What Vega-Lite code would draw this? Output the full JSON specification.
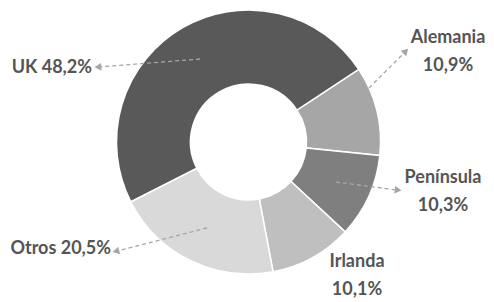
{
  "$schema": "https://vega.github.io/schema/vega-lite/v6.json",
  "width": 491,
  "height": 284,
  "autosize": "none",
  "padding": {"left": 3, "right": 0, "top": 0, "bottom": 18},
  "background": "white",
  "config": {"view": {"stroke": null}},
  "datasets": {
    "shares": [
      {"region": "Alemania", "pct": 10.9, "orden": 1},
      {"region": "Península", "pct": 10.3, "orden": 2},
      {"region": "Irlanda", "pct": 10.1, "orden": 3},
      {"region": "Otros", "pct": 20.5, "orden": 4},
      {"region": "UK", "pct": 48.2, "orden": 5}
    ],
    "labels": [
      {"region": "UK", "text": "UK 48,2%", "lx": 92, "ly": 68, "side": "right"},
      {"region": "Alemania", "text": "Alemania\n10,9%", "lx": 448, "ly": 38, "side": "center"},
      {"region": "Península", "text": "Península\n10,3%", "lx": 443, "ly": 178, "side": "center"},
      {"region": "Irlanda", "text": "Irlanda\n10,1%", "lx": 357, "ly": 262, "side": "center"},
      {"region": "Otros", "text": "Otros 20,5%", "lx": 111, "ly": 249, "side": "right"}
    ],
    "arrows": [
      {"region": "UK", "x1": 200, "y1": 59, "x2": 99, "y2": 67},
      {"region": "Alemania", "x1": 369, "y1": 88, "x2": 405, "y2": 52},
      {"region": "Península", "x1": 336, "y1": 182, "x2": 397, "y2": 190},
      {"region": "Otros", "x1": 207, "y1": 228, "x2": 117, "y2": 251}
    ]
  },
  "layer": [
    {
      "data": {"name": "shares"},
      "mark": {"type": "arc", "innerRadius": 58, "outerRadius": 132, "stroke": "white", "strokeWidth": 1.5},
      "encoding": {
        "theta": {"field": "pct", "type": "quantitative", "stack": true, "scale": {"range": [0.988, 7.2712]}},
        "order": {"field": "orden", "type": "quantitative"},
        "color": {
          "field": "region", "type": "nominal", "legend": null,
          "scale": {
            "domain": ["Alemania", "Península", "Irlanda", "Otros", "UK"],
            "range": ["#a6a6a6", "#7f7f7f", "#bfbfbf", "#d9d9d9", "#595959"]
          }
        }
      }
    },
    {
      "data": {"name": "arrows"},
      "mark": {"type": "rule", "color": "#a6a6a6", "strokeWidth": 1.3, "strokeDash": [4, 3]},
      "encoding": {
        "x": {"field": "x1", "type": "quantitative", "axis": null, "scale": {"domain": [3, 494], "nice": false, "zero": false}},
        "y": {"field": "y1", "type": "quantitative", "axis": null, "scale": {"domain": [0, 284], "reverse": true, "nice": false, "zero": false}},
        "x2": {"field": "x2"},
        "y2": {"field": "y2"}
      }
    },
    {
      "data": {"name": "arrows"},
      "transform": [
        {"calculate": "atan2(datum.x2 - datum.x1, datum.y1 - datum.y2) * 180 / PI", "as": "ang"}
      ],
      "mark": {"type": "point", "shape": "triangle", "filled": true, "color": "#a6a6a6", "opacity": 1, "size": 60},
      "encoding": {
        "x": {"field": "x2", "type": "quantitative"},
        "y": {"field": "y2", "type": "quantitative"},
        "angle": {"field": "ang", "type": "quantitative", "scale": {"domain": [-360, 360], "range": [-360, 360]}}
      }
    },
    {
      "data": {"name": "labels"},
      "transform": [{"filter": "datum.side === 'right'"}],
      "mark": {"type": "text", "align": "right", "baseline": "middle", "font": "Lato", "fontWeight": "bold", "fontSize": 18, "color": "#555555", "lineBreak": "\n", "lineHeight": 28},
      "encoding": {
        "x": {"field": "lx", "type": "quantitative"},
        "y": {"field": "ly", "type": "quantitative"},
        "text": {"field": "text"}
      }
    },
    {
      "data": {"name": "labels"},
      "transform": [{"filter": "datum.side === 'center'"}],
      "mark": {"type": "text", "align": "center", "baseline": "middle", "font": "Lato", "fontWeight": "bold", "fontSize": 18, "color": "#555555", "lineBreak": "\n", "lineHeight": 28},
      "encoding": {
        "x": {"field": "lx", "type": "quantitative"},
        "y": {"field": "ly", "type": "quantitative"},
        "text": {"field": "text"}
      }
    }
  ]
}
